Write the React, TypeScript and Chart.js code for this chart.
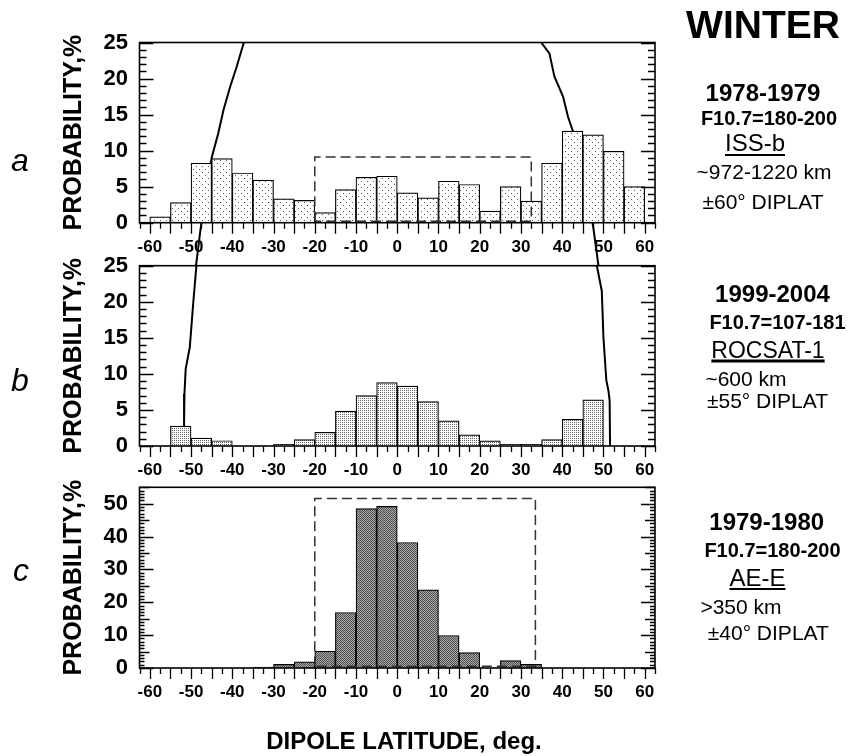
import React, { useEffect, useRef } from 'react';
import { Chart, registerables } from 'chart.js';
Chart.register(...registerables);

// ---------- data ----------
const binCenters = [-57.5, -52.5, -47.5, -42.5, -37.5, -32.5, -27.5, -22.5, -17.5, -12.5, -7.5, -2.5,
  2.5, 7.5, 12.5, 17.5, 22.5, 27.5, 32.5, 37.5, 42.5, 47.5, 52.5, 57.5];
const xTickLabels = [-60, -50, -40, -30, -20, -10, 0, 10, 20, 30, 40, 50, 60];
const yTicksAB = [0, 5, 10, 15, 20, 25];
const yTicksC = [0, 10, 20, 30, 40, 50];

const probA = [0.8, 2.8, 8.25, 8.9, 6.9, 5.9, 3.3, 3.1, 1.4, 4.6, 6.3, 6.45, 4.15, 3.45, 5.75, 5.3, 1.6, 5.0, 3.0, 8.25, 12.7, 12.2, 9.9, 5.0];
const probB = [0, 2.75, 1.1, 0.73, 0, 0, 0.23, 0.9, 1.9, 4.85, 7.0, 8.8, 8.3, 6.15, 3.5, 1.55, 0.7, 0.23, 0.23, 0.9, 3.7, 6.4, 0, 0];
const probC = [0, 0, 0, 0, 0, 0.3, 1.1, 1.85, 5.1, 16.9, 48.5, 49.2, 38.2, 23.8, 9.9, 4.7, 0, 2.25, 1.1, 0, 0, 0, 0, 0];

const curveALeftX = [-37.2, -38.9, -40.5, -42.1, -43.4, -45.0, -47.7, -48.8];
const curveALeftY = [25, 21.7, 18.9, 15.7, 12.4, 9.0, -0.9, -6.0];
const curveARightX = [34.9, 36.9, 38.1, 40.2, 41.4, 42.6, 47.5, 48.8];
const curveARightY = [25, 23.5, 20.3, 17.5, 14.7, 12.7, -0.5, -6.0];
const curveBLeftX = [-48.7, -49.5, -50.3, -51.3, -51.6, -51.7, -51.8];
const curveBLeftY = [25, 19.6, 13.7, 10.7, 7.2, 2.7, 0];
const curveBRightX = [48.4, 49.6, 50.0, 50.7, 51.2, 51.5, 51.6];
const curveBRightY = [25, 21.5, 15.0, 9.1, 7.7, 6.3, 0];

const boxAX = [-20, -20, 32.5, 32.5, -20];
const boxAY = [0.2, 9.1, 9.1, 0.2, 0.2];
const boxCX = [-20, -20, 33.5, 33.5, -20];
const boxCY = [0.5, 51.6, 51.6, 0.5, 0.5];

const FONT = '"Liberation Sans", Arial, Helvetica, sans-serif';
Chart.defaults.font.family = FONT;
Chart.defaults.color = '#000';

const W = 853;
const H = 756;
const PLOT_LEFT = 139.5;
const PLOT_RIGHT = 655;
const XAXIS_H = 40;
const TITLE_SIZE = 25;

type Panel = {
  top: number; bottom: number; yMax: number; yTicks: number[]; values: number[];
  curves: { x: number[]; y: number[] }[]; box?: { x: number[]; y: number[] };
  pattern: 'a' | 'b' | 'c'; yMid?: number; yMajor: number; minorLen: number;
};

const panels: Panel[] = [
  { top: 42.5, bottom: 222.7, yMax: 25, yTicks: yTicksAB, values: probA,
    curves: [{ x: curveALeftX, y: curveALeftY }, { x: curveARightX, y: curveARightY }],
    box: { x: boxAX, y: boxAY }, pattern: 'a', yMajor: 5, minorLen: 7 },
  { top: 265.7, bottom: 446, yMax: 25, yTicks: yTicksAB, values: probB,
    curves: [{ x: curveBLeftX, y: curveBLeftY }, { x: curveBRightX, y: curveBRightY }],
    pattern: 'b', yMajor: 5, minorLen: 7 },
  { top: 487.3, bottom: 668, yMax: 55, yTicks: yTicksC, values: probC, curves: [],
    box: { x: boxCX, y: boxCY }, pattern: 'c', yMajor: 10, yMid: 5, minorLen: 5 },
];

function makePattern(kind: 'a' | 'b' | 'c'): CanvasPattern | string {
  const c = document.createElement('canvas');
  const g = c.getContext('2d');
  if (!g) return '#ccc';
  if (kind === 'a') {
    c.width = 6; c.height = 6;
    g.fillStyle = '#fff'; g.fillRect(0, 0, 6, 6);
    g.fillStyle = '#555';
    g.fillRect(1, 1, 1, 1); g.fillRect(4, 4, 1, 1);
  } else if (kind === 'b') {
    c.width = 2; c.height = 2;
    g.fillStyle = '#fff'; g.fillRect(0, 0, 2, 2);
    g.fillStyle = '#666'; g.fillRect(0, 0, 1, 1);
  } else {
    c.width = 2; c.height = 2;
    g.fillStyle = '#a8a8a8'; g.fillRect(0, 0, 2, 2);
    g.fillStyle = '#505050'; g.fillRect(0, 0, 1, 1); g.fillRect(1, 1, 1, 1);
  }
  return g.createPattern(c, 'repeat') || '#ccc';
}

function framePlugin(p: Panel) {
  return {
    id: 'frameTicks',
    afterDraw(chart: any) {
      const ctx = chart.ctx;
      const { left, right, top, bottom } = chart.chartArea;
      const xs = chart.scales.x;
      const ys = chart.scales.y;
      ctx.save();
      ctx.strokeStyle = '#000';
      ctx.lineWidth = 1.3;
      ctx.beginPath();
      for (let v = 0; v <= p.yMax + 1e-9; v += 1) {
        const py = Math.round(ys.getPixelForValue(v)) + 0.5;
        let len = p.minorLen;
        if (v % p.yMajor === 0) len = 14;
        else if (p.yMid && v % p.yMid === 0) len = 10;
        ctx.moveTo(left, py); ctx.lineTo(left + len, py);
        ctx.moveTo(right, py); ctx.lineTo(right - len, py);
      }
      for (let v = -62.5; v <= 62.5 + 1e-9; v += 2.5) {
        const px = Math.round(xs.getPixelForValue(v)) + 0.5;
        const len = Math.abs(v % 5) < 1e-9 ? 11 : 6;
        ctx.moveTo(px, bottom); ctx.lineTo(px, bottom + len);
      }
      ctx.stroke();
      ctx.lineWidth = 1.6;
      ctx.strokeRect(left, top, right - left, bottom - top);
      ctx.restore();
    },
  };
}

function buildConfig(p: Panel): any {
  const datasets: any[] = [];
  datasets.push({
    type: 'bar',
    data: binCenters.map((x, i) => ({ x, y: p.values[i] })),
    backgroundColor: makePattern(p.pattern),
    borderColor: '#000',
    borderWidth: 1.2,
    borderSkipped: 'start',
    barPercentage: 1,
    categoryPercentage: 1,
    order: 1,
  });
  p.curves.forEach((c) => {
    datasets.push({
      type: 'line',
      data: c.x.map((x, i) => ({ x, y: c.y[i] })),
      borderColor: '#000',
      borderWidth: 2,
      pointRadius: 0,
      fill: false,
      tension: 0,
      clip: false,
      order: 2,
    });
  });
  if (p.box) {
    const b = p.box;
    datasets.push({
      type: 'line',
      data: b.x.map((x, i) => ({ x, y: b.y[i] })),
      borderColor: '#333',
      borderWidth: 1.5,
      borderDash: [10, 5],
      pointRadius: 0,
      fill: false,
      tension: 0,
      clip: false,
      order: 0,
    });
  }
  return {
    type: 'bar',
    data: { datasets },
    options: {
      animation: false,
      responsive: false,
      devicePixelRatio: 1,
      events: [],
      layout: { padding: { left: 0, right: W - PLOT_RIGHT, top: p.top, bottom: H - p.bottom - XAXIS_H } },
      plugins: { legend: { display: false }, tooltip: { enabled: false } },
      scales: {
        x: {
          type: 'linear', min: -62.5, max: 62.5, offset: false,
          grid: { display: false, drawTicks: false }, border: { display: false },
          afterBuildTicks: (s: any) => { s.ticks = xTickLabels.map((v) => ({ value: v })); },
          afterFit: (s: any) => { s.height = XAXIS_H; },
          ticks: { color: '#000', padding: 14, autoSkip: false, maxRotation: 0,
            font: { size: 17, weight: 'bold' }, callback: (v: any) => String(v) },
        },
        y: {
          type: 'linear', min: 0, max: p.yMax,
          grid: { display: false, drawTicks: false }, border: { display: false },
          afterBuildTicks: (s: any) => { s.ticks = p.yTicks.map((v) => ({ value: v })); },
          afterFit: (s: any) => { s.width = PLOT_LEFT; },
          ticks: { color: '#000', padding: 11.5, font: { size: 22, weight: 'bold' }, callback: (v: any) => String(v) },
          title: { display: true, text: 'PROBABILITY,%', color: '#000',
            font: { size: TITLE_SIZE, weight: 'bold', lineHeight: 1 }, padding: { top: 74 - TITLE_SIZE / 2, bottom: 0 } },
        },
      },
    },
    plugins: [framePlugin(p)],
  };
}

function PanelChart({ p }: { p: Panel }) {
  const ref = useRef<HTMLCanvasElement | null>(null);
  useEffect(() => {
    if (!ref.current) return;
    const chart = new Chart(ref.current, buildConfig(p));
    return () => chart.destroy();
  }, [p]);
  return (
    <canvas ref={ref} width={W} height={H}
      style={{ position: 'absolute', left: 0, top: 0, width: W, height: H }} />
  );
}

type TP = { x: number; y: number; size: number; bold?: boolean; italic?: boolean;
  underline?: number; ulThick?: number; children: React.ReactNode };
function Txt({ x, y, size, bold, italic, underline, ulThick, children }: TP) {
  return (
    <div style={{
      position: 'absolute', left: x, top: y, transform: 'translate(-50%,-50%)',
      fontFamily: FONT, fontSize: size, fontWeight: bold ? 700 : 400,
      fontStyle: italic ? 'italic' : 'normal', lineHeight: 1, whiteSpace: 'nowrap', color: '#000',
      textDecoration: underline !== undefined ? 'underline' : 'none',
      textUnderlineOffset: underline !== undefined ? `${underline}px` : undefined,
      textDecorationThickness: ulThick ? `${ulThick}px` : undefined,
    }}>{children}</div>
  );
}

export default function App() {
  return (
    <div style={{ position: 'absolute', left: 0, top: 0, width: W, height: H, background: '#fff', overflow: 'hidden' }}>
      {panels.map((p, i) => <PanelChart key={i} p={p} />)}

      <Txt x={20} y={160} size={32} italic>a</Txt>
      <Txt x={20} y={380} size={32} italic>b</Txt>
      <Txt x={21} y={570} size={32} italic>c</Txt>

      <Txt x={763} y={24} size={39} bold>WINTER</Txt>

      <Txt x={763} y={93} size={24} bold>1978-1979</Txt>
      <Txt x={769} y={118} size={20} bold>F10.7=180-200</Txt>
      <Txt x={755} y={143} size={24} underline={3} ulThick={2}>ISS-b</Txt>
      <Txt x={764} y={171} size={21}>~972-1220 km</Txt>
      <Txt x={763} y={200.5} size={21}>±60° DIPLAT</Txt>

      <Txt x={772.5} y={294} size={24} bold>1999-2004</Txt>
      <Txt x={777.5} y={321.7} size={20} bold>F10.7=107-181</Txt>
      <Txt x={768} y={350} size={23} underline={2} ulThick={2.5}>ROCSAT-1</Txt>
      <Txt x={746} y={377.5} size={21}>~600 km</Txt>
      <Txt x={767.5} y={400} size={21}>±55° DIPLAT</Txt>

      <Txt x={766.7} y={521.7} size={24} bold>1979-1980</Txt>
      <Txt x={772.5} y={550} size={20} bold>F10.7=180-200</Txt>
      <Txt x={757.5} y={578} size={24} underline={1.5} ulThick={2}>AE-E</Txt>
      <Txt x={741} y={606} size={21}>&gt;350 km</Txt>
      <Txt x={768.3} y={631.7} size={21}>±40° DIPLAT</Txt>

      <Txt x={404} y={741} size={24} bold>DIPOLE LATITUDE, deg.</Txt>
    </div>
  );
}
